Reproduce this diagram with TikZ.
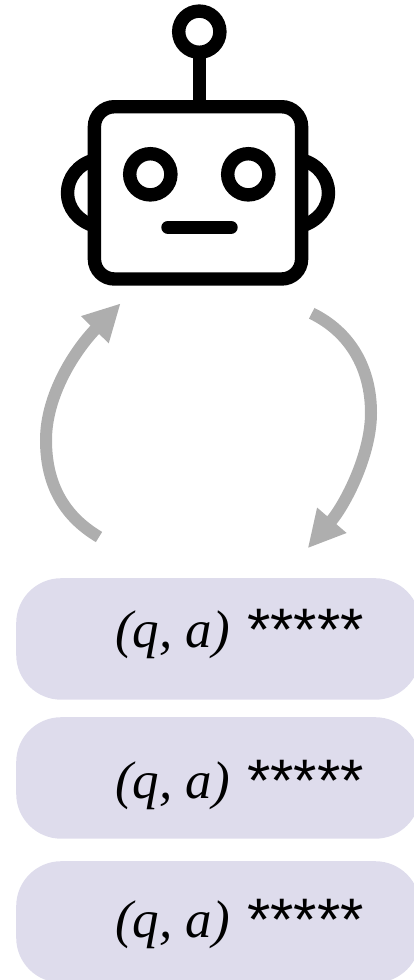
\documentclass[tikz,border=0pt]{standalone}
\usepackage{fontspec}
\setmainfont{Liberation Serif}
\newfontfamily\starfont{Liberation Sans}
\usetikzlibrary{arrows.meta}
\definecolor{kutuLila}{HTML}{DEDCEC}
\definecolor{okGri}{HTML}{AEAEAE}
\tikzset{
  robotLine/.style={black,line width=13.4pt},
  pairBox/.style={fill=kutuLila,rounded corners=45pt,inner sep=0pt,minimum width=404pt,minimum height=121.5pt,anchor=north west},
  pairText/.style={anchor=base west,inner sep=0pt},
  loopArrow/.style={okGri,line width=12pt,-{Triangle[length=37pt,width=36pt]}}
}
\begin{document}
\begin{tikzpicture}[x=1pt,y=-1pt]
\useasboundingbox (0,0) rectangle (414,980);
\clip (0,0) rectangle (414,980);
% anten
\draw[robotLine] (199.3,31.7) circle (20.6pt);
\draw[robotLine] (199.3,52)--(199.3,107);
% kafa
\draw[robotLine,rounded corners=20pt] (94.4,106.7) rectangle (301.6,279);
% kulaklar
\draw[robotLine] (94.4,160) .. controls (78,164) and (67.5,178) .. (67.5,193) .. controls (67.5,208) and (78,221) .. (94.4,226);
\draw[robotLine] (301.6,160) .. controls (318,164) and (328.5,178) .. (328.5,193) .. controls (328.5,208) and (318,221) .. (301.6,226);
% gozler, agiz
\draw[robotLine] (150.3,174.3) circle (20.6pt);
\draw[robotLine] (248.3,174.3) circle (20.6pt);
\draw[robotLine,line cap=round] (168,227.3)--(231,227.3);
% oklar
\coordinate (listLeft) at (99,537);
\coordinate (robotLeft) at (120.7,303.3);
\coordinate (robotRight) at (311.7,313.3);
\coordinate (listRight) at (307.7,548.3);
\draw[loopArrow] (listLeft) .. controls (62,515) and (46,482) .. (46,440) .. controls (46,395) and (75,350) .. (robotLeft);
\draw[loopArrow] (robotRight) .. controls (350,332) and (371,368) .. (371,413) .. controls (371,455) and (345,505) .. (listRight);
% kutular
\foreach \n/\y/\b in {A/578/647,B/717/798,C/861/937} {
  \node[pairBox] (box\n) at (16,\y) {};
  \node[pairText] (pair\n) at (115,\b) {\fontsize{53pt}{53pt}\selectfont\itshape (q, a)\hspace{4pt} {\starfont\upshape\fontsize{60pt}{60pt}\selectfont\raisebox{-3pt}{*****}}};
}
\end{tikzpicture}
\end{document}
